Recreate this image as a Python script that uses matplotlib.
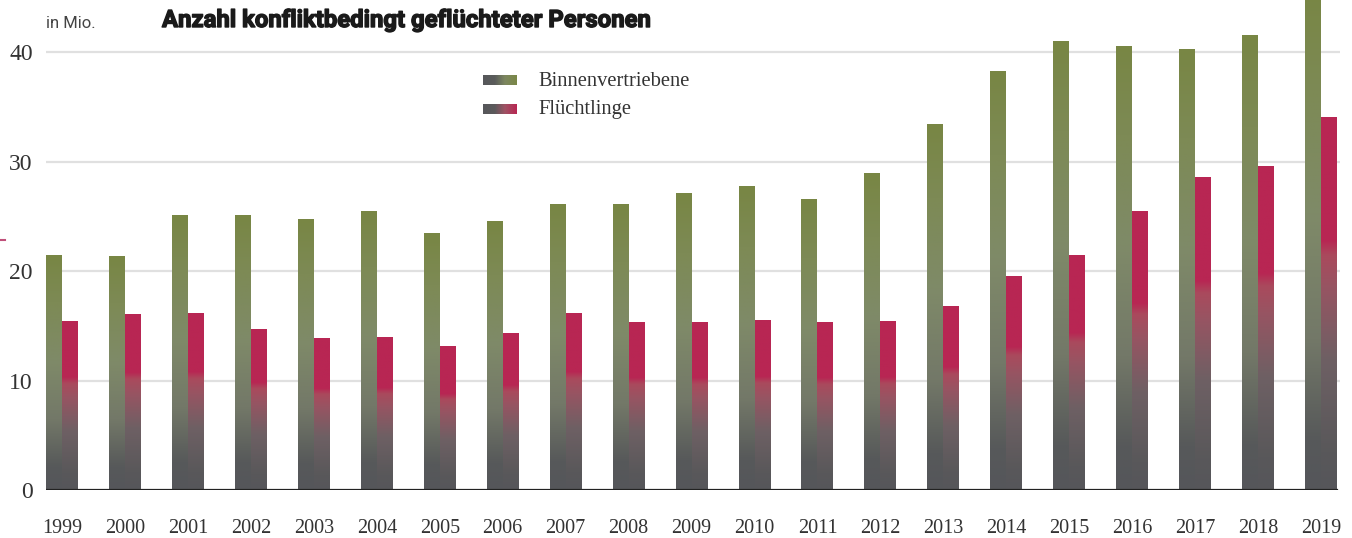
import numpy as np
import matplotlib
matplotlib.use('Agg')
import matplotlib.pyplot as plt
import matplotlib.patheffects as pe
from matplotlib.colors import LinearSegmentedColormap
from matplotlib.lines import Line2D

years = list(range(1999, 2020))
binnen = [21.4, 21.3, 25.1, 25.1, 24.7, 25.4, 23.4, 24.5, 26.1, 26.1, 27.1,
          27.7, 26.5, 28.9, 33.4, 38.2, 41.0, 40.5, 40.2, 41.5, 45.7]
fluecht = [15.4, 16.0, 16.1, 14.7, 13.8, 13.9, 13.1, 14.3, 16.1, 15.3, 15.3,
           15.5, 15.3, 15.4, 16.8, 19.5, 21.4, 25.4, 28.5, 29.5, 34.0]
yticks = [0, 10, 20, 30, 40]

W, H = 1352, 538
fig = plt.figure(figsize=(W / 100, H / 100), dpi=100)

# gradients along the bar height (fraction of bar)
cm_green = LinearSegmentedColormap.from_list('g', [
    (0.0, '#55565a'), (0.1, '#57595a'), (0.3, '#737868'),
    (0.55, '#7f8a68'), (0.8, '#7d8a55'), (1.0, '#788644')])
cm_red = LinearSegmentedColormap.from_list('r', [
    (0.0, '#56565a'), (0.1, '#59585a'), (0.35, '#6e6064'),
    (0.55, '#985462'), (0.63, '#aa4a5d'), (0.67, '#b82653'), (1.0, '#b82653')])

grad = np.linspace(0, 1, 256).reshape(-1, 1)

ax = fig.add_axes([46 / W, 48 / H, 1294 / W, 490 / H])
xs = np.arange(len(years))
w = 0.254

for gi in [10, 20, 30, 40]:
    ax.axhline(gi, color='#e0e0e0', lw=1.6, zorder=0)

for i in range(len(years)):
    for val, cm, x0 in [(binnen[i], cm_green, xs[i] - w), (fluecht[i], cm_red, xs[i])]:
        ax.imshow(grad, cmap=cm, origin='lower', aspect='auto',
                  extent=[x0, x0 + w, 0, val], zorder=2, interpolation='bilinear')

ax.axhline(0, color='#222222', lw=1.6, zorder=3, xmin=0, xmax=0.998)
ax.set_xlim(-w, 20.3)
ax.set_ylim(0, 44.75)
for s in ax.spines.values():
    s.set_visible(False)
ax.set_xticks(xs)
ax.set_xticklabels([str(y) for y in years], family='Liberation Serif',
                   fontsize=14.5, color='#333333')
ax.set_yticks(yticks)
ax.set_yticklabels([str(t) for t in yticks], family='Liberation Serif',
                   fontsize=17, color='#333333')
ax.tick_params(axis='x', length=0, pad=21)
ax.tick_params(axis='y', length=0, pad=9.5)

# overlay for header and legend, in pixel coordinates
ov = fig.add_axes([0, 0, 1, 1], zorder=5)
ov.axis('off')
ov.patch.set_alpha(0)

ov.text(46, 28, 'in Mio.', family='Roboto', fontsize=12, color='#444444', va='baseline')
ov.text(162, 27, 'Anzahl konfliktbedingt geflüchteter Personen', family='Roboto',
        fontweight='bold', fontsize=17.2, color='#1a1a1a', va='baseline',
        path_effects=[pe.withStroke(linewidth=1.0, foreground='#1a1a1a')])

hgrad = np.linspace(0, 1, 256).reshape(1, -1)
cm_lg = LinearSegmentedColormap.from_list('lg', [(0, '#56575a'), (0.35, '#5a5c5b'), (0.65, '#7d8760'), (1, '#7a8746')])
cm_lr = LinearSegmentedColormap.from_list('lr', [(0, '#56575a'), (0.35, '#5c5a5c'), (0.65, '#a05264'), (1, '#b82653')])
for cy, cm, label, by in [(80, cm_lg, 'Binnenvertriebene', 86), (109, cm_lr, 'Flüchtlinge', 114)]:
    ov.imshow(hgrad, cmap=cm, aspect='auto', extent=[483, 517, cy + 5, cy - 5],
              interpolation='bilinear')
    ov.text(538, by, label, family='Liberation Serif', fontsize=14.8,
            color='#333333', va='baseline')
ov.set_xlim(0, W)
ov.set_ylim(H, 0)

# small leftover mark at the left edge
fig.add_artist(Line2D([0, 5 / W], [1 - 240 / H, 1 - 240 / H], color='#c0507a', lw=1.5))

fig.savefig('out.png', dpi=100)
